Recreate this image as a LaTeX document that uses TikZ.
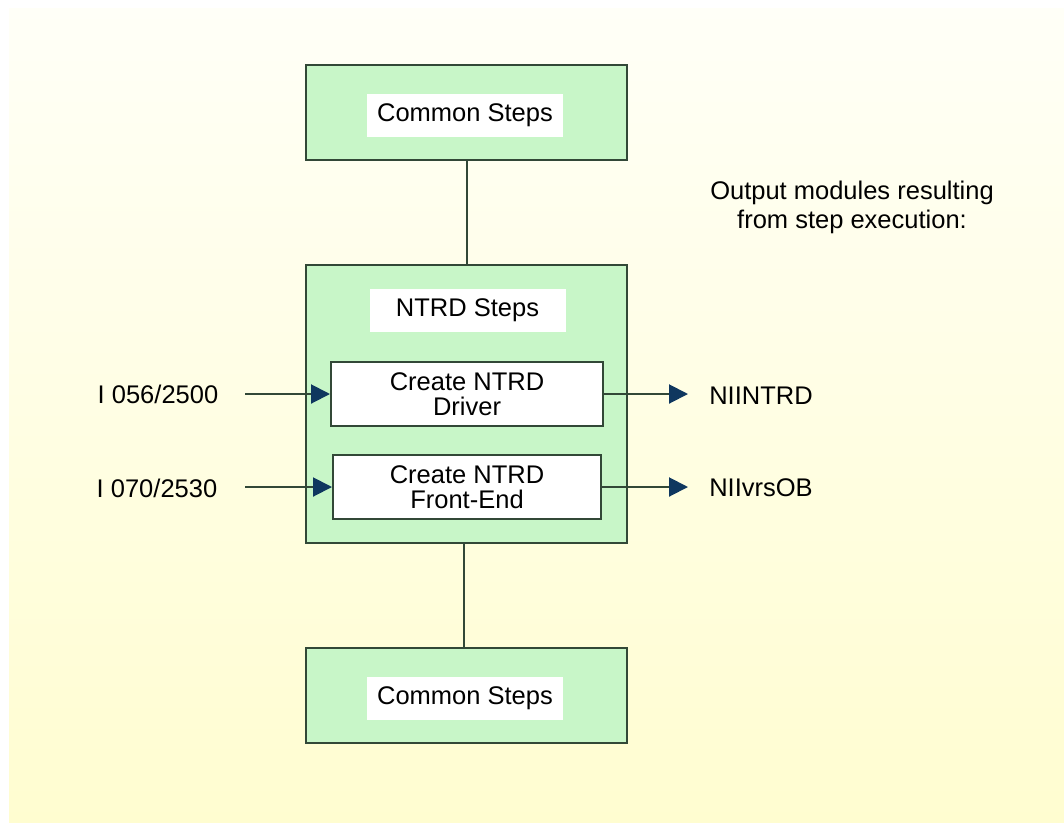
\documentclass[tikz,border=0pt]{standalone}
\usepackage{fontspec}
\setmainfont{Liberation Sans}
\usepackage{tikz}
\usetikzlibrary{arrows.meta}

\definecolor{stepgreen}{RGB}{200,246,200}
\definecolor{stepline}{RGB}{50,72,55}
\definecolor{tipblue}{RGB}{15,55,95}
\definecolor{bgtop}{RGB}{255,255,247}
\definecolor{bgbot}{RGB}{255,253,208}

\tikzset{
  stepbox/.style={draw=stepline, line width=2pt, fill=stepgreen, minimum width=321pt, inner sep=0pt},
  steptitle/.style={fill=white, minimum width=196pt, minimum height=43pt, inner sep=0pt},
  taskbox/.style={draw=stepline, line width=2pt, fill=white, minimum width=272pt, minimum height=64pt, align=center, inner sep=0pt},
  plain/.style={inner sep=0pt, align=center},
  link/.style={draw=stepline, line width=2pt},
  flow/.style={link, -{Triangle[length=19pt,width=19pt,color=tipblue]}}
}

\begin{document}
\begin{tikzpicture}[x=1pt,y=-1pt,font=\fontsize{25.5pt}{25pt}\selectfont]
  % page and background
  \useasboundingbox (0,0) rectangle (1064,822);
  \shade[top color=bgtop, bottom color=bgbot] (9,8) rectangle (1064,822);

  % step boxes
  \node[stepbox, minimum height=95pt] (top) at (466.5,112.5) {};
  \node[steptitle] (toptitle) at (465,115) {Common Steps};
  \node[stepbox, minimum height=278pt] (ntrd) at (466.5,404) {};
  \node[steptitle] (ntrdtitle) at (467.5,310) {NTRD Steps};
  \node[taskbox] (driver) at (467,394) {Create NTRD\\Driver};
  \node[taskbox, minimum width=268pt] (front) at (467,487) {Create NTRD\\Front-End};
  \node[stepbox, minimum height=95pt] (bot) at (466.5,695.5) {};
  \node[steptitle] (bottitle) at (465,698) {Common Steps};

  \draw[link] (top.south) -- (ntrd.north);
  \draw[link] ([xshift=-3pt]ntrd.south) -- ([xshift=-3pt]bot.north);

  % inputs
  \node[plain] (in1) at (158,394) {I 056/2500};
  \node[plain] (in2) at (157,488) {I 070/2530};
  \coordinate (src1) at (245,394);
  \coordinate (src2) at (245,487);
  \draw[flow] (src1) -- (driver.west);
  \draw[flow] (src2) -- (front.west);

  % outputs
  \node[plain, font=\fontsize{25.5pt}{29pt}\selectfont] (note) at (852,207)
    {Output modules resulting\\from step execution:};
  \node[plain] (out1) at (761,396) {NIINTRD};
  \node[plain] (out2) at (761,488) {NIIvrsOB};
  \coordinate (dst1) at (688,394);
  \coordinate (dst2) at (688,487);
  \draw[flow] (driver.east) -- (dst1);
  \draw[flow] (front.east) -- (dst2);
\end{tikzpicture}
\end{document}
